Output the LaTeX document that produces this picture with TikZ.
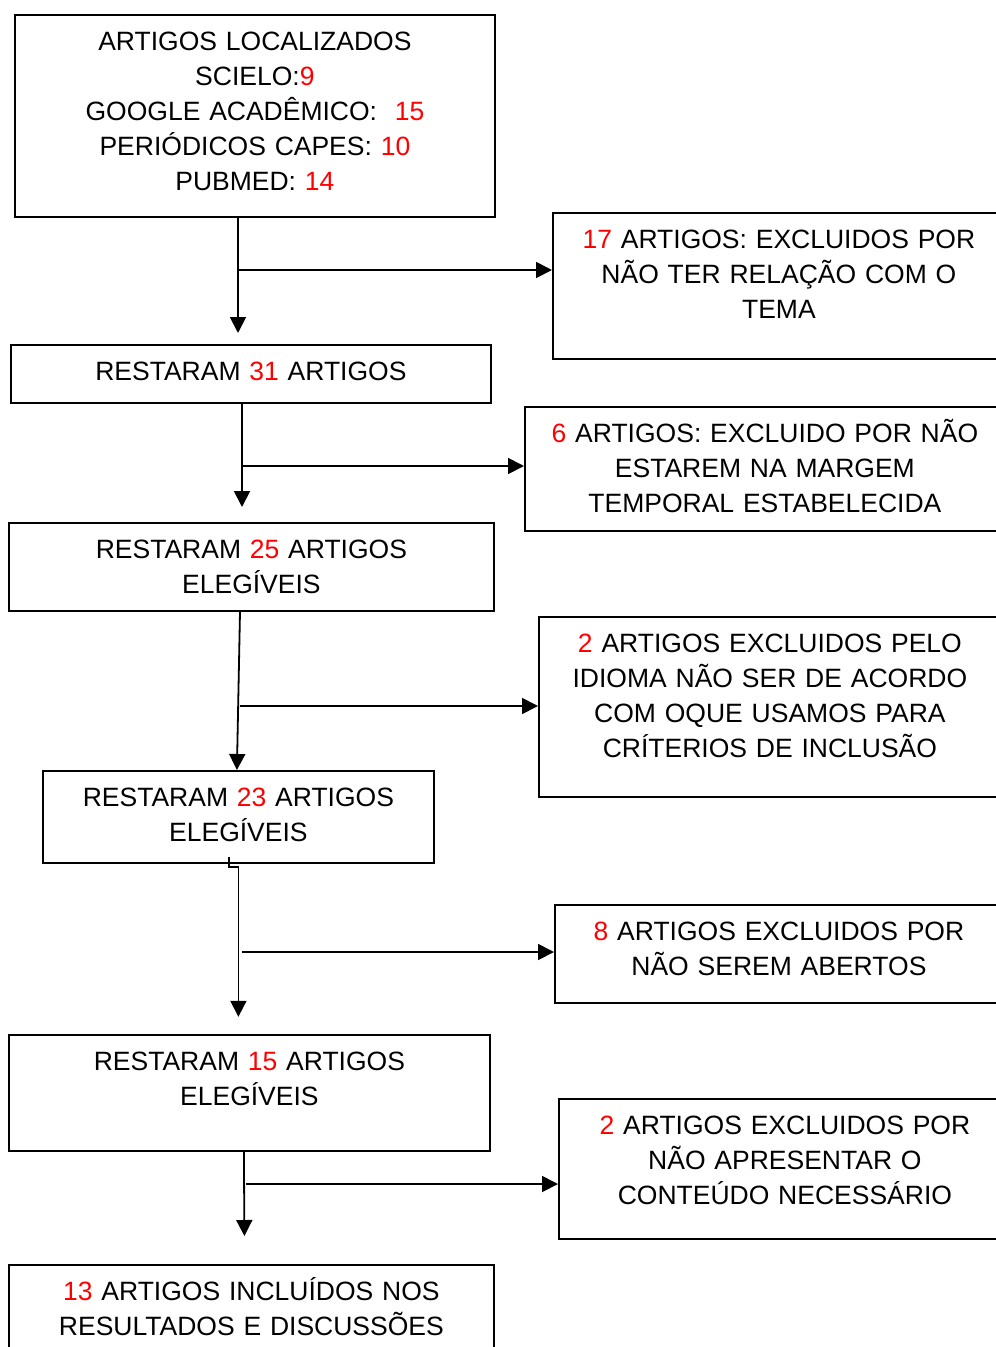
\documentclass[tikz,border=0pt]{standalone}
\usepackage{fontspec}
\setmainfont{Liberation Sans}
\usetikzlibrary{arrows.meta}
\newcommand{\qtd}[1]{\textcolor{red}{#1}}

\begin{document}
\begin{tikzpicture}[x=1pt,y=-1pt,
    box/.style={draw,line width=1.8pt,anchor=north west,inner sep=0pt,align=center,
      font=\fontsize{26.5}{35}\selectfont,text height=36pt},
    arr/.style={line width=1.8pt,-{Triangle[length=16pt,width=16pt]}}]
        \useasboundingbox (0,0) rectangle (996,1347);
        \clip (0,0) rectangle (996,1347);
        % Caixas da esquerda %
        \node [box,text width=480pt,text depth=166pt] (b1) at (14,14)
          {ARTIGOS LOCALIZADOS\\SCIELO:\qtd{9}\\GOOGLE ACADÊMICO:\ \ \qtd{15}\\PERIÓDICOS CAPES: \qtd{10}\\PUBMED: \qtd{14}};
        \node [box,text width=480pt,text depth=22pt] (b2) at (10,344)
          {RESTARAM \qtd{31} ARTIGOS};
        \node [box,text width=485pt,text depth=52pt] (b3) at (8,522)
          {RESTARAM \qtd{25} ARTIGOS\\ELEGÍVEIS};
        \node [box,text width=391pt,text depth=56pt] (b4) at (42,770)
          {RESTARAM \qtd{23} ARTIGOS\\ELEGÍVEIS};
        \node [box,text width=481pt,text depth=80pt] (b5) at (8,1034)
          {RESTARAM \qtd{15} ARTIGOS\\ELEGÍVEIS};
        \node [box,text width=485pt,text depth=84pt] (b6) at (8,1264)
          {\qtd{13} ARTIGOS INCLUÍDOS NOS\\RESULTADOS E DISCUSSÕES};
        % Caixas da direita %
        \node [box,text width=452pt,text depth=110pt] (r1) at (552,212)
          {\qtd{17} ARTIGOS: EXCLUIDOS POR\\NÃO TER RELAÇÃO COM O\\TEMA};
        \node [box,text width=480pt,text depth=88pt] (r2) at (524,406)
          {\qtd{6} ARTIGOS: EXCLUIDO POR NÃO\\ESTAREM NA MARGEM\\TEMPORAL ESTABELECIDA};
        \node [box,text width=462pt,text depth=144pt] (r3) at (538,616)
          {\qtd{2} ARTIGOS EXCLUIDOS PELO\\IDIOMA NÃO SER DE ACORDO\\COM OQUE USAMOS PARA\\CRÍTERIOS DE INCLUSÃO};
        \node [box,text width=448pt,text depth=62pt] (r4) at (554,904)
          {\qtd{8} ARTIGOS EXCLUIDOS POR\\NÃO SEREM ABERTOS};
        \node [box,text width=452pt,text depth=104pt] (r5) at (558,1098)
          {\qtd{2} ARTIGOS EXCLUIDOS POR\\NÃO APRESENTAR O\\CONTEÚDO NECESSÁRIO};
        % Setas %
        \coordinate (j1) at (238,270);
        \draw [arr] (b1.south -| j1) -- ([yshift=11pt]b2.north -| j1);
        \draw [arr] (j1) -- (j1 -| r1.west);
        \coordinate (j2) at (242,466);
        \draw [arr] (b2.south -| j2) -- ([yshift=15pt]b3.north -| j2);
        \draw [arr] (j2) -- (j2 -| r2.west);
        \coordinate (j3) at (240,706);
        \draw [arr] (b3.south -| j3) -- ([xshift=-1.5pt]b4.north);
        \draw [arr] (j3) -- (j3 -| r3.west);
        \coordinate (j4) at (242,952);
        \draw [arr] ([xshift=-9.5pt,yshift=7pt]b4.south) -- ++(0,10) -- ++(9.5,0) -- ++(0,150);
        \draw [arr] (j4) -- (j4 -| r4.west);
        \coordinate (j5) at (246,1184);
        \draw [arr] ([xshift=-5.5pt]b5.south) -- ([xshift=-7pt,yshift=28pt]b6.north);
        \draw [arr] (j5) -- (j5 -| r5.west);

      \end{tikzpicture}
\end{document}
